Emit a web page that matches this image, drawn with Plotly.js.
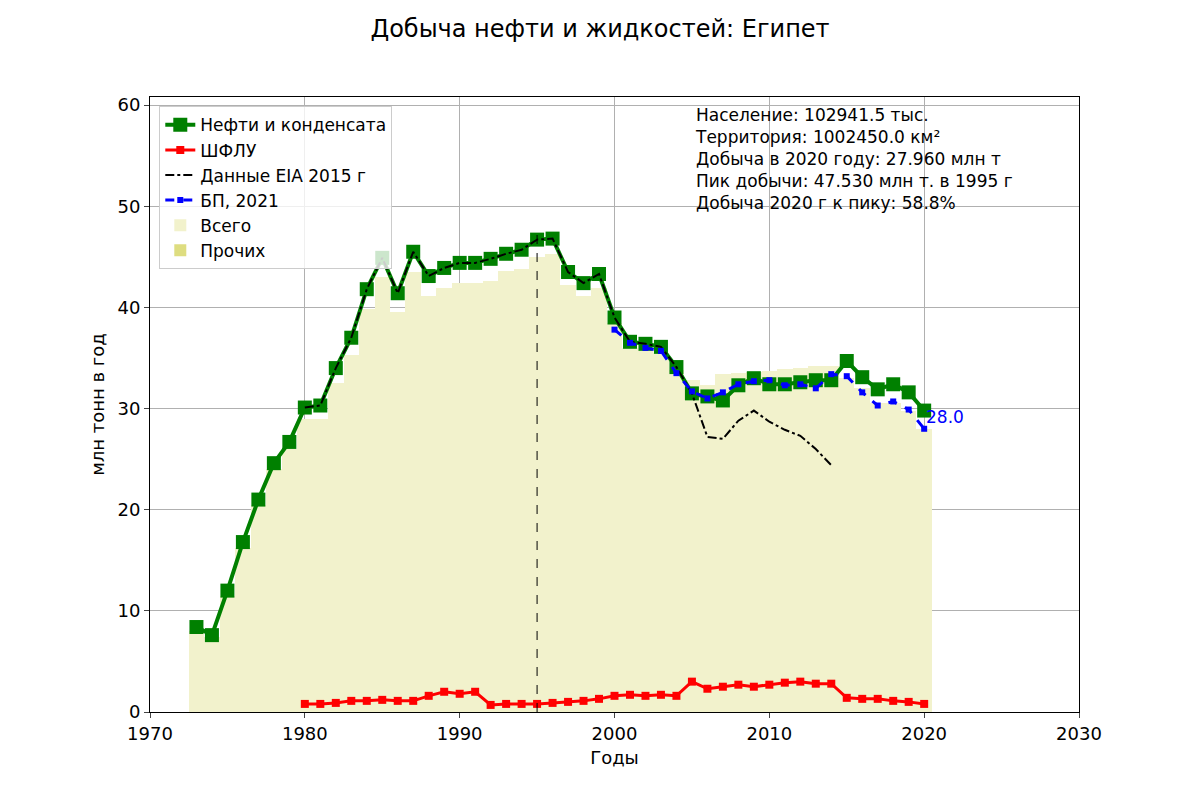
<!DOCTYPE html>
<html>
<head>
<meta charset="utf-8">
<script src="https://cdn.plot.ly/plotly-3.0.1.min.js"></script>
<style>body{margin:0}</style>
</head>
<body>
<div id="chart" style="width:1200px;height:800px"></div>
<script>
const years = []
for (let y = 1973; y <= 2020; y++) years.push(y)

const oil = [8.4, 7.6, 12.0, 16.8, 21.0, 24.6, 26.7, 30.1, 30.3, 34.0, 37.0, 41.8, 44.9, 41.4, 45.5, 43.1,
    43.9, 44.4, 44.4, 44.8, 45.3, 45.7, 46.7, 46.8, 43.5, 42.4, 43.3, 39.0, 36.6, 36.4, 36.1, 34.1,
    31.5, 31.2, 30.8, 32.3, 33.0, 32.4, 32.4, 32.6, 32.8, 32.8, 34.7, 33.1, 31.9, 32.4, 31.6, 29.8]

const total = [8.0, 7.4, 11.5, 16.2, 20.5, 24.0, 26.0, 29.0, 29.0, 32.5, 35.3, 39.8, 43.0, 39.5, 43.5, 41.1,
    41.9, 42.4, 42.4, 42.6, 43.6, 43.8, 45.0, 45.3, 42.2, 41.1, 41.9, 38.5, 36.0, 35.8, 35.5, 33.8,
    32.8, 32.3, 33.4, 33.5, 33.6, 33.7, 33.9, 34.0, 34.2, 34.2, 33.0, 32.0, 30.5, 30.5, 29.8, 27.96]

const nglYears = years.slice(7)
const ngl = [0.8, 0.8, 0.9, 1.1, 1.1, 1.2, 1.1, 1.1, 1.6, 2.0, 1.8, 2.0, 0.7, 0.8, 0.8, 0.8, 0.9, 1.0, 1.1, 1.3,
    1.6, 1.7, 1.6, 1.7, 1.6, 3.0, 2.3, 2.5, 2.7, 2.5, 2.7, 2.9, 3.0, 2.8, 2.8, 1.4, 1.3, 1.3, 1.1, 1.0, 0.8]

const eiaYears = years.slice(7, 42)
const eia = [30.1, 30.3, 34.0, 37.0, 41.8, 44.9, 41.4, 45.5, 43.1, 43.9, 44.4, 44.4, 44.8, 45.3, 45.7, 46.7,
    46.8, 43.5, 42.4, 43.3, 39.0, 36.6, 36.4, 36.1, 34.1, 31.5, 27.2, 27.0, 28.8, 29.8, 28.7, 27.9, 27.3, 26.0, 24.4]

const bpYears = years.slice(27)
const bp = [37.8, 36.5, 36.0, 35.7, 33.5, 31.7, 31.0, 31.6, 32.4, 32.7, 32.8, 32.3, 32.4, 32.0, 33.4, 33.2,
    31.6, 30.3, 30.7, 29.9, 28.0]

const infoLines = ['Население: 102941.5 тыс.', 'Территория: 1002450.0 км²', 'Добыча в 2020 году: 27.960 млн т',
    'Пик добычи: 47.530 млн т. в 1995 г', 'Добыча 2020 г к пику: 58.8%']

const traces = [
    { x: years, y: total, type: 'bar', width: 1, name: 'Всего', marker: { color: '#f2f2cc' }, legendrank: 5 },
    { x: years, y: years.map(() => 0), type: 'bar', width: 1, name: 'Прочих', marker: { color: '#dedd80' }, legendrank: 6 },
    { x: years, y: oil, type: 'scatter', mode: 'lines+markers', name: 'Нефти и конденсата',
      line: { color: 'green', width: 4 }, marker: { symbol: 'square', size: 14, color: 'green' }, legendrank: 1 },
    { x: nglYears, y: ngl, type: 'scatter', mode: 'lines+markers', name: 'ШФЛУ',
      line: { color: 'red', width: 3 }, marker: { symbol: 'square', size: 8, color: 'red' }, legendrank: 2 },
    { x: eiaYears, y: eia, type: 'scatter', mode: 'lines', name: 'Данные EIA 2015 г',
      line: { color: 'black', width: 2, dash: 'dashdot' }, legendrank: 3 },
    { x: bpYears, y: bp, type: 'scatter', mode: 'lines+markers', name: 'БП, 2021',
      line: { color: 'blue', width: 3, dash: 'dash' }, marker: { symbol: 'square', size: 6, color: 'blue' }, legendrank: 4 },
    { x: [1995, 1995], y: [0, 47.53], type: 'scatter', mode: 'lines', showlegend: false,
      line: { color: 'black', width: 1, dash: 'dash' } }
]

const layout = {
    title: { text: 'Добыча нефти и жидкостей: Египет', font: { size: 24, color: 'black' }, y: 0.975 },
    font: { family: 'DejaVu Sans', size: 18, color: 'black' },
    margin: { l: 150, r: 121, t: 97, b: 88 },
    barmode: 'stack',
    bargap: 0,
    showlegend: true,
    xaxis: { title: { text: 'Годы', font: { size: 18 }, standoff: 8 }, range: [1970, 2030], dtick: 10,
             showgrid: true, gridcolor: '#b0b0b0', showline: true, linecolor: 'black', mirror: true,
             ticks: 'outside', zeroline: false },
    yaxis: { title: { text: 'млн тонн в год', font: { size: 18 } }, range: [0, 60.8], dtick: 10,
             showgrid: true, gridcolor: '#b0b0b0', showline: true, linecolor: 'black', mirror: true,
             ticks: 'outside', zeroline: false },
    legend: { x: 0.01, y: 0.985, xanchor: 'left', yanchor: 'top', bgcolor: 'rgba(255,255,255,0.8)',
              bordercolor: '#cccccc', borderwidth: 1, font: { size: 17 }, traceorder: 'normal' },
    annotations: [
        { x: 0.585, y: 0.99, xref: 'paper', yref: 'paper', xanchor: 'left', yanchor: 'top', align: 'left',
          showarrow: false, text: infoLines.join('<br>'), font: { size: 17 } },
        { x: 2020, y: bp[bp.length - 1], xanchor: 'left', yanchor: 'bottom', showarrow: false,
          text: bp[bp.length - 1].toFixed(1), font: { size: 17, color: 'blue' } }
    ],
    plot_bgcolor: 'white',
    paper_bgcolor: 'white'
}

Plotly.newPlot('chart', traces, layout, { displayModeBar: false })
</script>
</body>
</html>
